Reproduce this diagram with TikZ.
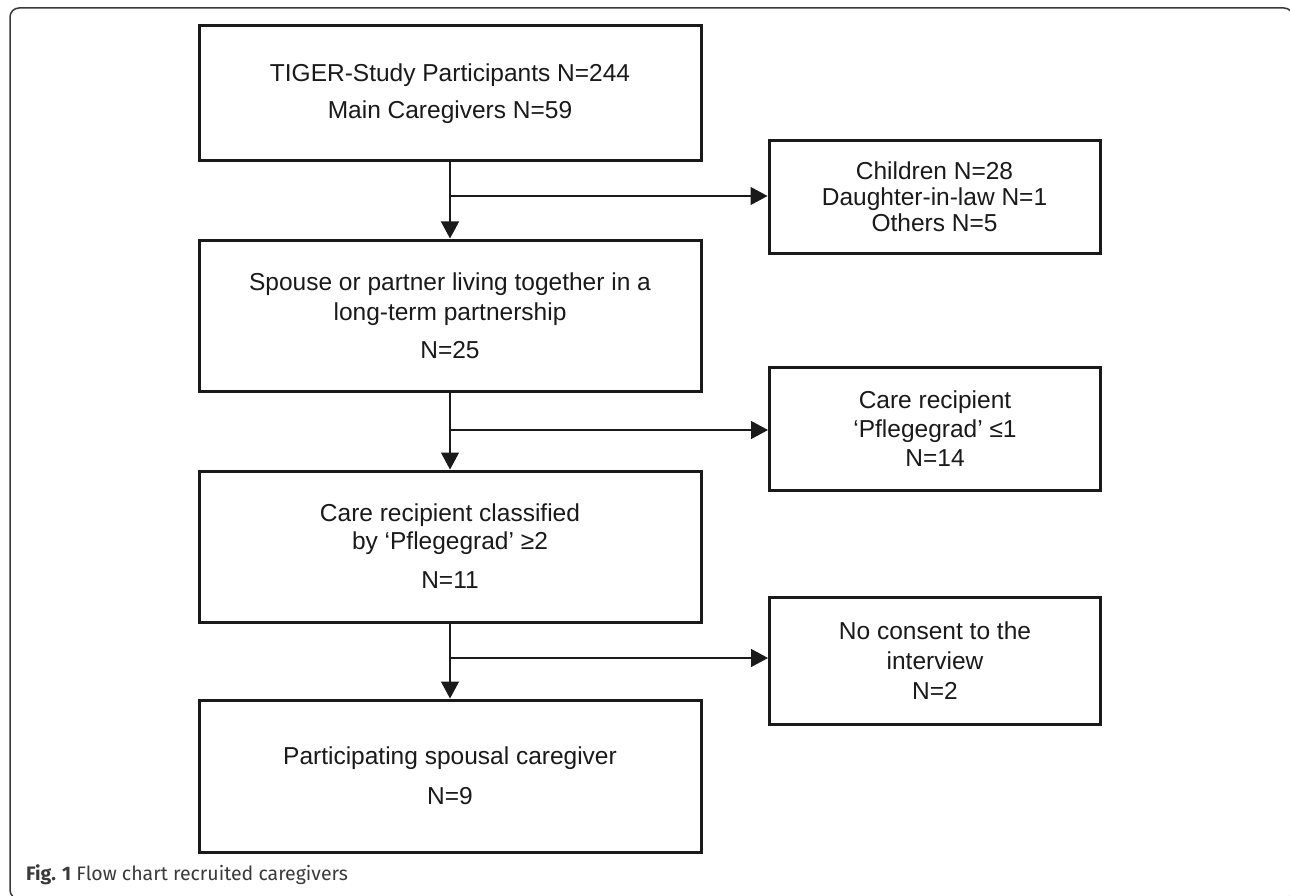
\documentclass[tikz,border=0pt]{standalone}
\usepackage{fontspec}
\setmainfont{Liberation Sans}
\newfontfamily\capfont{Fira Sans}
\usetikzlibrary{arrows.meta}
\definecolor{ink}{HTML}{1A1A1A}
\definecolor{framec}{HTML}{3A3A3A}
\begin{document}
\begin{tikzpicture}[x=1pt,y=-1pt,
  boxbase/.style={draw=ink, line width=3pt, inner sep=0pt, align=center, text=ink},
  mainbox/.style={boxbase, minimum width=502pt},
  sidebox/.style={boxbase, minimum width=331pt},
  conn/.style={draw=ink, line width=1.3pt},
  arr/.style={conn, -{Triangle[width=18pt,length=17pt]}}
]
\useasboundingbox (0,0) rectangle (1290,896);
\fill[white] (0,0) rectangle (1290,896);
\draw[framec, line width=1.5pt, rounded corners=9pt] (10,8) rectangle (1293,899);

\node[mainbox, minimum height=135pt, font=\fontsize{24.5}{37}\selectfont] (b1) at (450,93.5)
  {TIGER-Study Participants N=244\\Main Caregivers N=59};
\node[sidebox, minimum height=112pt, font=\fontsize{24.5}{26}\selectfont] (c1) at (934.5,197)
  {Children N=28\\Daughter-in-law N=1\\Others N=5};
\node[mainbox, minimum height=151pt, font=\fontsize{24.5}{30}\selectfont] (b2) at (450,315.5)
  {Spouse or partner living together in a\\long-term partnership\\[8pt]N=25};
\node[sidebox, minimum height=123pt, font=\fontsize{24.5}{29}\selectfont] (c2) at (935,428.5)
  {Care recipient\\‘Pflegegrad’ ≤1\\N=14};
\node[mainbox, minimum height=151pt, font=\fontsize{24.5}{28}\selectfont] (b3) at (450,546.5)
  {Care recipient classified\\by ‘Pflegegrad’ ≥2\\[11pt]N=11};
\node[sidebox, minimum height=127pt, font=\fontsize{24.5}{30}\selectfont] (c3) at (935,660.5)
  {No consent to the\\interview\\N=2};
\node[mainbox, minimum height=152pt, font=\fontsize{24.5}{40}\selectfont] (b4) at (450,776)
  {Participating spousal caregiver\\N=9};

\coordinate (y1) at (0,196);
\coordinate (y2) at (0,430);
\coordinate (y3) at (0,658);
\coordinate (j1) at (b1.south |- y1);
\coordinate (j2) at (b2.south |- y2);
\coordinate (j3) at (b3.south |- y3);

\draw[arr] (b1.south) -- (b2.north);
\draw[arr] (j1) -- (j1 -| c1.west);
\draw[arr] (b2.south) -- (b3.north);
\draw[arr] (j2) -- (j2 -| c2.west);
\draw[arr] (b3.south) -- (b4.north);
\draw[arr] (j3) -- (j3 -| c3.west);

\node[anchor=base west, inner sep=0pt, text=framec, font=\capfont\fontsize{19.5}{23}\selectfont] (cap) at (26,880)
  {\textbf{Fig. 1} Flow chart recruited caregivers};
\end{tikzpicture}
\end{document}
